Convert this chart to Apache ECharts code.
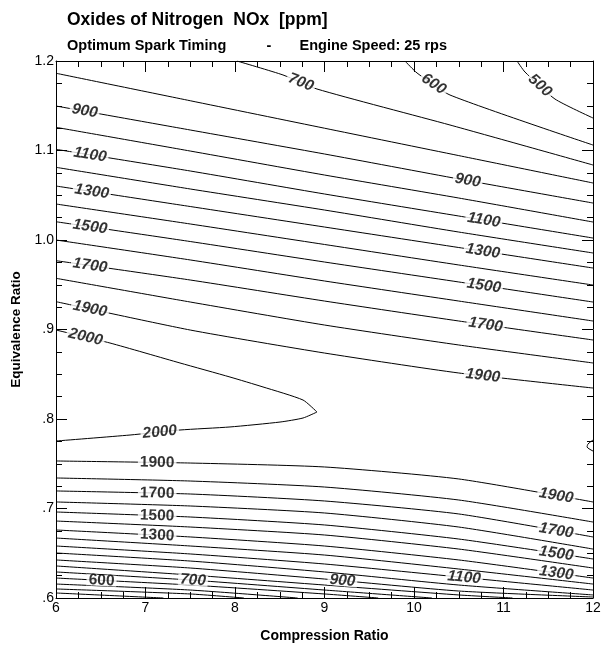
<!DOCTYPE html>
<html><head><meta charset="utf-8">
<script src="https://cdn.jsdelivr.net/npm/echarts@6/dist/echarts.min.js"></script>
<style>html,body{margin:0;padding:0;background:#fff}#c{width:604px;height:654px}</style>
</head><body><div id="c"></div>
<script>
// ---- axis ranges / ticks ----
const xRange = [6, 12];
const yRange = [0.6, 1.2];
const titleText = 'Oxides of Nitrogen  NOx  [ppm]';
const subtitleText = 'Optimum Spark Timing          -       Engine Speed: 25 rps';
const xName = 'Compression Ratio';
const yName = 'Equivalence Ratio';

// ---- contour lines, NOx [ppm]: points [compression ratio, equivalence ratio] ----
// rich-side (upper) contours
const u500 = [[11.151,1.2],[11.240,1.1877],[11.575,1.1575],[12,1.1363]];
const u600 = [[9.899,1.2],[10.034,1.1866],[10.402,1.162],[12,1.1061]];
const u700 = [[8.022,1.2],[8.536,1.1844],[8.916,1.1687],[10.402,1.1285],[12,1.0838]];
const u800 = [[6,1.1863],[7.5,1.1556],[9,1.1249],[10.5,1.0943],[12,1.0637]];
const u900 = [[6,1.1497],[7.5,1.1229],[9,1.0961],[10.5,1.0682],[12,1.0413]];
const u1000 = [[6,1.1259],[7.5,1.0994],[9,1.0726],[10.5,1.0469],[12,1.0201]];
const u1100 = [[6,1.1013],[7.5,1.0771],[9,1.0514],[10.5,1.0268],[12,1.0022]];
const u1200 = [[6,1.0812],[7.5,1.0570],[9,1.0335],[10.5,1.0089],[12,0.9855]];
const u1300 = [[6,1.0603],[7.5,1.0374],[9,1.0145],[10.5,0.9916],[12,0.9687]];
const u1400 = [[6,1.0402],[7.5,1.0179],[9,0.9950],[10.5,0.9721],[12,0.9497]];
const u1500 = [[6,1.0204],[7.5,0.9983],[9,0.9754],[10.5,0.9531],[12,0.9307]];
const u1600 = [[6,1.0],[7.5,0.9777],[9,0.9542],[10.5,0.9318],[12,0.9095]];
const u1700 = [[6,0.9769],[7.5,0.9553],[9,0.9318],[10.5,0.9095],[12,0.8883]];
const u1800 = [[6,0.9572],[7.5,0.9307],[9,0.9050],[10.5,0.8827],[12,0.8626]];
const u1900 = [[6,0.9311],[7.5,0.8994],[9,0.8737],[10.5,0.8514],[12,0.8346]];
// 2000 ppm ridge (upper branch to tip, lower branch back) and small edge contour
const u2000 = [[6,0.8994],[6.603,0.8849],[7.385,0.8626],[7.944,0.8469],[8.313,0.8358],[8.760,0.8212],[8.916,0.8078]];
const l2000 = [[8.916,0.8078],[8.760,0.8011],[8.503,0.7966],[7.944,0.7911],[7.385,0.7877],[6.827,0.7821],[6,0.7754]];
const e2000 = [[12,0.7765],[11.944,0.7721],[11.933,0.7687],[12,0.7642]];
// lean-side (lower) contours
const l1900 = [[6,0.7531],[7.5,0.7508],[9,0.7464],[10.5,0.7330],[12,0.7073]];
const l1800 = [[6,0.7341],[7.5,0.7307],[9,0.7240],[10.5,0.7095],[12,0.6849]];
const l1700 = [[6,0.7196],[7.5,0.7162],[9,0.7084],[10.5,0.6939],[12,0.6682]];
const l1600 = [[6,0.7073],[7.5,0.7028],[9,0.6950],[10.5,0.6793],[12,0.6547]];
const l1500 = [[6,0.6961],[7.5,0.6905],[9,0.6816],[10.5,0.6659],[12,0.6436]];
const l1400 = [[6,0.6860],[7.5,0.6793],[9,0.6704],[10.5,0.6547],[12,0.6335]];
const l1300 = [[6,0.6760],[7.5,0.6682],[9,0.6581],[10.5,0.6425],[12,0.6223]];
const l1200 = [[6,0.6670],[7.5,0.6581],[9,0.6480],[10.5,0.6324],[12,0.6156]];
const l1100 = [[6,0.6581],[7.5,0.6492],[9,0.6380],[10.5,0.6235],[12,0.6089]];
const l1000 = [[6,0.6503],[7.5,0.6413],[9,0.6291],[10.5,0.6145],[12,0.6034]];
const l900 = [[6,0.6425],[7.5,0.6335],[9,0.6212],[10.5,0.6078],[12,0.6011]];
const l800 = [[6,0.6358],[7.5,0.6257],[9,0.6145],[10.5,0.6034],[11.1,0.6]];
const l700 = [[6,0.6291],[7.5,0.6201],[9,0.6089],[10.2,0.6]];
const l600 = [[6,0.6223],[7.5,0.6145],[9,0.6045],[9.6,0.6]];
const l500 = [[6,0.6156],[7.5,0.6089],[8.7,0.6]];
const l400 = [[6,0.6101],[7.5,0.6045],[8.1,0.6]];
const l300 = [[6,0.6056],[7.2,0.6]];

const contourLines = {u500,u600,u700,u800,u900,u1000,u1100,u1200,u1300,u1400,u1500,u1600,u1700,u1800,u1900,
  u2000,l2000,e2000,l1900,l1800,l1700,l1600,l1500,l1400,l1300,l1200,l1100,l1000,l900,l800,l700,l600,l500,l400,l300};

// contour labels: [line, compression ratio where label sits]
const contourLabels = [
  ['u900',6.32],['u1100',6.38],['u1300',6.40],['u1500',6.38],['u1700',6.38],['u1900',6.38],['u2000',6.33],
  ['u700',8.737],['u600',10.22],['u500',11.408],
  ['u900',10.60],['u1100',10.78],['u1300',10.77],['u1500',10.78],['u1700',10.80],['u1900',10.77],
  ['l2000',7.16],['l1900',7.13],['l1700',7.13],['l1500',7.13],['l1300',7.13],
  ['l600',6.51],['l700',7.53],['l900',9.20],['l1100',10.56],
  ['l1900',11.59],['l1700',11.59],['l1500',11.59],['l1300',11.59]
];

const FONT = 'Liberation Sans, Arial, Helvetica, sans-serif';
const chart = echarts.init(document.getElementById('c'), null, {renderer:'canvas'});

function axisCommon(extra){
  return Object.assign({
    type:'value', splitLine:{show:false},
    axisLine:{show:true, onZero:false, lineStyle:{color:'#000', width:1}},
    axisTick:{show:true, inside:true, length:11, lineStyle:{color:'#000', width:1}},
    minorTick:{show:true, splitNumber:4, length:6, lineStyle:{color:'#000', width:1}},
    minorSplitLine:{show:false}
  }, extra);
}

const lineSeries = Object.keys(contourLines).map(k => ({
  type:'line', name:k, data:contourLines[k], symbol:'none', smooth:0.2,
  lineStyle:{color:'#000', width:1}, silent:true, animation:false, z:2
}));

const option = {
  backgroundColor:'#fff',
  animation:false,
  title:[
    {text:titleText, left:62, top:6, textStyle:{fontFamily:FONT, fontSize:17.5, fontWeight:'bold', color:'#000'}},
    {text:subtitleText, left:62, top:33, textStyle:{fontFamily:FONT, fontSize:14.5, fontWeight:'bold', color:'#000'}}
  ],
  grid:{left:56, top:61, width:537, height:537, show:false},
  xAxis:[
    axisCommon({min:xRange[0], max:xRange[1], interval:1, position:'bottom',
      name:xName, nameLocation:'middle', nameGap:31,
      nameTextStyle:{fontFamily:FONT, fontSize:14, fontWeight:'bold', color:'#000'},
      axisLabel:{show:true, margin:3, fontFamily:FONT, fontSize:14, color:'#000'}}),
    axisCommon({min:xRange[0], max:xRange[1], interval:1, position:'top', axisLabel:{show:false}})
  ],
  yAxis:[
    axisCommon({min:yRange[0], max:yRange[1], interval:0.1, position:'left',
      name:yName, nameLocation:'middle', nameGap:32, nameRotate:90,
      nameTextStyle:{fontFamily:FONT, fontSize:13.5, fontWeight:'bold', color:'#000'},
      axisLabel:{show:true, margin:2, fontFamily:FONT, fontSize:14, color:'#000',
        formatter:v => v >= 0.95 ? v.toFixed(1) : '.' + Math.round(v*10)}}),
    axisCommon({min:yRange[0], max:yRange[1], interval:0.1, position:'right', axisLabel:{show:false}})
  ],
  series: lineSeries
};
chart.setOption(option);

// place labels on their contour lines, rotated along the local direction
function interp(pts, x){
  for (let i=0;i<pts.length-1;i++){
    const a=pts[i], b=pts[i+1];
    const lo=Math.min(a[0],b[0]), hi=Math.max(a[0],b[0]);
    if (x>=lo && x<=hi && hi>lo){ const t=(x-a[0])/(b[0]-a[0]); return a[1]+t*(b[1]-a[1]); }
  }
  return null;
}
const labelData = contourLabels.map(([k,x]) => {
  const pts = contourLines[k];
  const y = interp(pts, x);
  const xs = pts.map(p=>p[0]);
  const x1 = Math.max(Math.min(...xs), x-0.2), x2 = Math.min(Math.max(...xs), x+0.2);
  const p1 = chart.convertToPixel({gridIndex:0}, [x1, interp(pts,x1)]);
  const p2 = chart.convertToPixel({gridIndex:0}, [x2, interp(pts,x2)]);
  const ang = -Math.atan2(p2[1]-p1[1], p2[0]-p1[0]) * 180/Math.PI;
  const text = k.replace(/^[ule]/,'');
  return {value:[x,y], name:text, label:{rotate:ang, fontStyle: Math.abs(ang)>3 ? 'italic':'normal'}};
});

chart.setOption({series: lineSeries.concat([{
  type:'scatter', data:labelData, symbolSize:1, itemStyle:{color:'rgba(0,0,0,0)'}, silent:true, z:5,
  label:{show:true, position:'inside', formatter:p=>p.name, fontFamily:FONT, fontSize:15.5, fontWeight:'bold',
    color:'#000', backgroundColor:'#fff', padding:[0,2], lineHeight:11}
}])});
</script></body></html>
